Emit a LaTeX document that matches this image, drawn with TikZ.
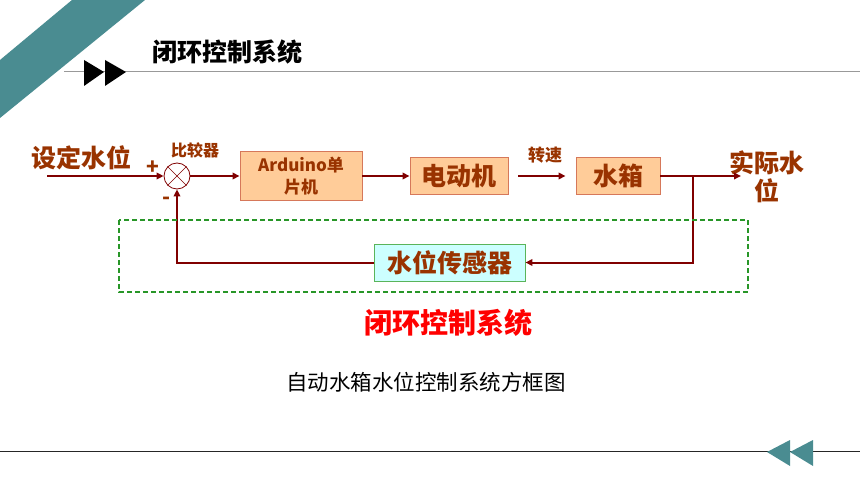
\documentclass[tikz,border=0pt]{standalone}
\usepackage{fontspec}
\newfontfamily\cjk{Noto Sans CJK SC}
\usetikzlibrary{arrows.meta}
\definecolor{bandteal}{RGB}{74,140,145}
\definecolor{txtbrown}{RGB}{153,51,0}
\definecolor{linered}{RGB}{128,0,0}
\definecolor{boxfill}{RGB}{255,204,153}
\definecolor{boxline}{RGB}{214,120,90}
\definecolor{sensfill}{RGB}{204,255,255}
\definecolor{sensline}{RGB}{90,180,90}
\definecolor{dashgreen}{RGB}{40,150,40}
\newcommand{\fsz}[1]{\fontsize{#1}{#1}\selectfont}

\begin{document}
\begin{tikzpicture}[x=1pt, y=-1pt,
  blk/.style={draw=boxline, fill=boxfill, line width=0.9pt, text=txtbrown,
    font=\cjk\bfseries\fsz{25}, inner sep=0pt},
  sens/.style={blk, draw=sensline, fill=sensfill},
  sig/.style={draw=linered, line width=2pt, -{Triangle[length=7pt,width=6.5pt]}},
  lbl/.style={text=txtbrown, inner sep=0pt}]

\useasboundingbox (0,0) rectangle (860,484);

\fill[bandteal] (72,0) -- (145,0) -- (0,118) -- (0,60) -- cycle;
\draw[gray!80, line width=1pt] (64,72) -- (860,72);
\fill (84,60) -- (104,72) -- (84,86) -- cycle;
\fill (105,60) -- (126,72) -- (105,86) -- cycle;
\node[inner sep=0pt, font=\cjk\bfseries\fsz{25}] (HEAD) at (227,52) {闭环控制系统};

\draw[black!85, line width=0.8pt] (0,451) -- (860,451);
\fill[bandteal] (767,452) -- (790,440) -- (790,466) -- cycle;
\fill[bandteal] (790,452) -- (813,440) -- (813,466) -- cycle;

\coordinate (IN) at (47,176);
\coordinate (BR) at (693,176);
\coordinate (OUT) at (741,176);

\node[circle, draw=linered, line width=0.8pt, minimum size=26pt, inner sep=0pt] (SUM) at (177,176) {};
\draw[linered, line width=0.6pt] (SUM.north west) -- (SUM.south east);
\draw[linered, line width=0.6pt] (SUM.north east) -- (SUM.south west);

\node[blk, minimum width=122pt, minimum height=49pt, align=center, font=\cjk\bfseries\fsz{17}] (MCU) at (301,176) {Arduino单\\[5pt]片机};
\node[blk, minimum width=98pt, minimum height=37pt] (MOT) at (459,176) {电动机};
\node[blk, minimum width=84pt, minimum height=37pt] (TANK) at (618,176) {水箱};
\node[sens, minimum width=151pt, minimum height=37pt] (SENS) at (449.5,262.5) {水位传感器};

\node[lbl, font=\cjk\bfseries\fsz{25}] (SET) at (81,158) {设定水位};
\node[lbl, font=\cjk\bfseries\fsz{25}, align=center] (ACT) at (767,177) {实际水\\[3pt]位};
\node[lbl, font=\cjk\bfseries\fsz{16}] (CMP) at (195,150) {比较器};
\node[lbl, font=\cjk\bfseries\fsz{17}] (SPD) at (545,155) {转速};
\node[lbl, font=\cjk\bfseries\fsz{21}] (PLUS) at (153,168) {+};
\node[lbl, font=\cjk\bfseries\fsz{21}] (MINUS) at (167,201) {-};

\draw[sig] (IN) -- (SUM);
\draw[sig] (SUM) -- (MCU);
\draw[sig] (MCU) -- (MOT);
\draw[sig, shorten <=10pt, shorten >=10pt] (MOT) -- (TANK);
\draw[sig] (TANK) -- (OUT);
\draw[sig] (BR) |- (SENS);
\draw[sig] (SENS) -| (SUM);

\draw[dashgreen, dash pattern=on 5pt off 3pt, line width=1.2pt] (119,220) rectangle (748,292);

\node[inner sep=0pt, text=red, font=\cjk\bfseries\fsz{28}] (LOOPT) at (448,323) {闭环控制系统};
\node[inner sep=0pt, font=\cjk\fsz{21.5}] (CAP) at (426,382) {自动水箱水位控制系统方框图};

\end{tikzpicture}
\end{document}
